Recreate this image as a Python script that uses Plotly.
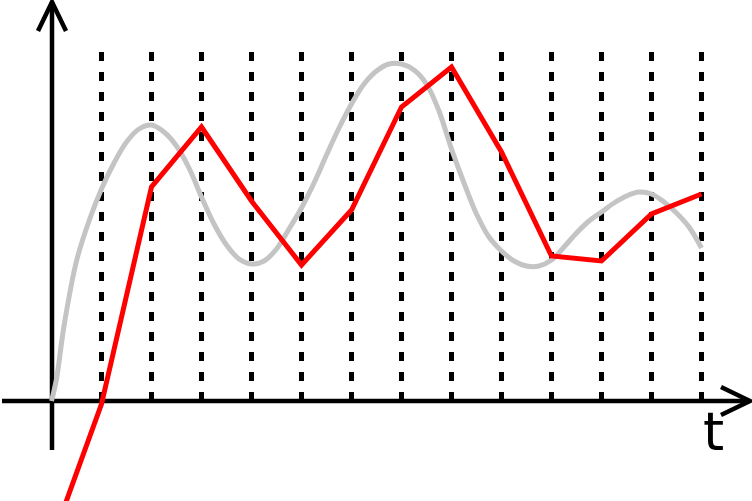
import plotly.graph_objects as go

# ---- data (t in sample steps, value in arbitrary units) ----
sample_t = [0, 1, 2, 3, 4, 5, 6, 7, 8, 9, 10, 11, 12, 13]
red_values = [-1.41, -0.03, 2.14, 2.74, 2.00, 1.36, 1.91, 2.94, 3.34, 2.49, 1.45, 1.40, 1.87, 2.07]

gray_t = [0.0, 0.1, 0.25, 0.5, 0.75, 1.0, 1.25, 1.5, 1.75, 2.0, 2.25, 2.5, 2.75, 3.0, 3.25, 3.5,
          3.75, 4.0, 4.25, 4.5, 4.75, 5.0, 5.25, 5.5, 5.75, 6.0, 6.25, 6.5, 6.75, 7.0, 7.25, 7.5,
          7.75, 8.0, 8.25, 8.5, 8.75, 9.0, 9.25, 9.5, 9.75, 10.0, 10.25, 10.5, 10.75, 11.0, 11.25,
          11.5, 11.75, 12.0, 12.25, 12.5, 12.75, 13.0]
gray_values = [0.0, 0.22, 0.75, 1.40, 1.80, 2.12, 2.38, 2.59, 2.72, 2.76, 2.69, 2.55, 2.33, 2.04,
               1.77, 1.56, 1.42, 1.37, 1.40, 1.52, 1.72, 1.93, 2.18, 2.46, 2.73, 2.97, 3.17, 3.30,
               3.37, 3.37, 3.31, 3.17, 2.90, 2.52, 2.18, 1.87, 1.64, 1.50, 1.40, 1.35, 1.35, 1.41,
               1.54, 1.68, 1.80, 1.89, 1.98, 2.05, 2.09, 2.07, 1.99, 1.88, 1.74, 1.53]

dash_t = [1, 2, 3, 4, 5, 6, 7, 8, 9, 10, 11, 12, 13]
dash_top = 3.49
axis_label = "t"

# ---- view ----
X_RANGE = [-1.03, 14.01]
Y_RANGE = [-1.0, 4.01]
H_AXIS = [-0.99, 13.97]   # horizontal axis extent (t)
V_AXIS = [-0.49, 3.99]    # vertical axis extent (value)

fig = go.Figure()

shapes = []
for t in dash_t:
    shapes.append(dict(type="line", xref="x", yref="y", x0=t, x1=t, y0=dash_top, y1=0,
                       line=dict(color="black", width=5, dash="9px,11px"), layer="below"))

axis_line = dict(color="black", width=4.5)
# horizontal axis + arrow
shapes.append(dict(type="line", xref="x", yref="y", x0=H_AXIS[0], x1=H_AXIS[1], y0=0, y1=0,
                   line=axis_line, layer="below"))
hx = H_AXIS[1]
shapes.append(dict(type="path", xref="x", yref="y",
                   path=f"M {hx-0.58},{0.14} L {hx},0 L {hx-0.58},{-0.14}",
                   line=axis_line, layer="below"))
# vertical axis + arrow
shapes.append(dict(type="line", xref="x", yref="y", x0=0.01, x1=0.01, y0=V_AXIS[0], y1=V_AXIS[1],
                   line=axis_line, layer="below"))
vy = V_AXIS[1]
shapes.append(dict(type="path", xref="x", yref="y",
                   path=f"M {-0.27},{vy-0.29} L 0.01,{vy} L {0.29},{vy-0.29}",
                   line=axis_line, layer="below"))

fig.add_trace(go.Scatter(x=gray_t, y=gray_values, mode="lines",
                         line=dict(color="#c4c4c4", width=5, shape="spline", smoothing=1.0),
                         hoverinfo="skip", showlegend=False))
fig.add_trace(go.Scatter(x=sample_t, y=red_values, mode="lines",
                         line=dict(color="#ff0000", width=5),
                         hoverinfo="skip", showlegend=False))

fig.add_annotation(x=13.23, y=-0.30, xref="x", yref="y", text=axis_label, showarrow=False,
                   font=dict(family="DejaVu Sans", size=54, color="black"),
                   xanchor="center", yanchor="middle")

fig.update_layout(
    width=752, height=501,
    margin=dict(l=0, r=0, t=0, b=0),
    paper_bgcolor="white", plot_bgcolor="white",
    shapes=shapes,
    xaxis=dict(range=X_RANGE, visible=False, fixedrange=True),
    yaxis=dict(range=Y_RANGE, visible=False, fixedrange=True),
    showlegend=False,
)

fig.write_html("out.html", config={"displayModeBar": False},
               post_script="document.body.style.margin='0';document.body.style.overflow='hidden';")
